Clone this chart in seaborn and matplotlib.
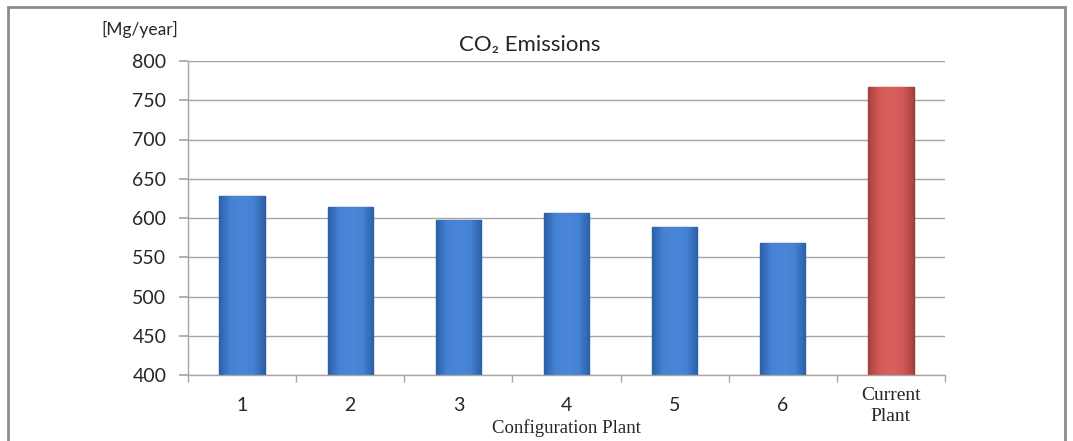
import matplotlib
matplotlib.use("Agg")
import matplotlib.pyplot as plt
import seaborn as sns
import pandas as pd
import numpy as np
from matplotlib.patches import Rectangle
from matplotlib.colors import LinearSegmentedColormap

categories = ["1", "2", "3", "4", "5", "6", "Current\nPlant"]
emissions = [628, 614, 598, 607, 589, 568, 767]
kinds = ["Configuration"] * 6 + ["Current"]
y_ticks = [400, 450, 500, 550, 600, 650, 700, 750, 800]
y_min, y_max = 400, 800

df = pd.DataFrame({"cat": categories, "val": emissions, "kind": kinds})

sns.set_theme(style="white")
plt.rcParams["font.family"] = ["Lato", "DejaVu Sans"]

fig = plt.figure(figsize=(10.73, 4.41), dpi=100)
ax = fig.add_axes([188 / 1073, 1 - 375 / 441, (945 - 188) / 1073, (375 - 61) / 441])

palette = {"Configuration": "#3f7dd3", "Current": "#d05452"}
sns.barplot(data=df, x="cat", y="val", hue="kind", palette=palette, dodge=False,
            width=0.42, legend=False, ax=ax, saturation=1)

edge = {"Configuration": "#2c5a9a", "Current": "#94393a"}
grad = {"Configuration": ["#2d60aa", "#4682d4", "#4a86d8", "#4682d4", "#2d60aa"],
        "Current": ["#a84240", "#d35a57", "#d8605d", "#d35a57", "#a84240"]}
for p, k in zip(ax.patches, kinds):
    p.set_edgecolor(edge[k])
    p.set_linewidth(1.0)
    x0, y0 = p.get_x(), p.get_y()
    w, h = p.get_width(), p.get_height()
    cmap = LinearSegmentedColormap.from_list(k, grad[k])
    im = ax.imshow(np.linspace(0, 1, 64).reshape(1, -1), cmap=cmap, aspect="auto",
                   extent=(x0, x0 + w, max(y0, y_min), y0 + h), zorder=p.get_zorder() + 0.1,
                   interpolation="bilinear")
    im.set_clip_path(p)

ax.set_ylim(y_min, y_max)
ax.set_xlim(-0.5, len(categories) - 0.5)
ax.set_aspect("auto")
ax.set_yticks(y_ticks)
ax.set_yticklabels([str(v) for v in y_ticks], fontsize=14, color="#262626")
ax.yaxis.grid(True, color="#a6a6a6", linewidth=1)
ax.set_axisbelow(True)
ax.tick_params(axis="y", length=6.5, color="#a6a6a6", left=True, pad=9)

ax.set_xticks(range(len(categories)))
ax.set_xticklabels(categories, fontsize=14, color="#262626")
ax.set_xticks([i - 0.5 for i in range(len(categories) + 1)], minor=True)
ax.tick_params(axis="x", which="minor", length=5, color="#a6a6a6", bottom=True)
ax.tick_params(axis="x", which="major", length=0, pad=16)
for lbl in ax.get_xticklabels():
    if "Current" in lbl.get_text():
        lbl.set_fontsize(14)
        lbl.set_family(["Liberation Serif"])
        lbl.set_linespacing(1.25)
ax.xaxis.get_major_ticks()[-1].set_pad(9)

ax.set_xlabel("Configuration Plant", fontsize=13.5, family=["Liberation Serif"], color="#262626", labelpad=-4)
ax.set_ylabel("")

for s in ["top", "right"]:
    ax.spines[s].set_visible(False)
for s in ["left", "bottom"]:
    ax.spines[s].set_color("#a6a6a6")
    ax.spines[s].set_linewidth(1)

fig.text(530 / 1073, 1 - 45 / 441, "CO\u2082 Emissions", ha="center", va="center",
         fontsize=16, color="#262626")
fig.text(140 / 1073, 1 - 29 / 441, "[Mg/year]", ha="center", va="center", fontsize=12.5, color="#262626")

fig.patches.append(Rectangle((8 / 1073, -0.05), (1065 - 8) / 1073, 1.05 - 7 / 441,
                             transform=fig.transFigure, fill=False, edgecolor="#8c8c8c", linewidth=2))

fig.savefig("out.png", dpi=100)
